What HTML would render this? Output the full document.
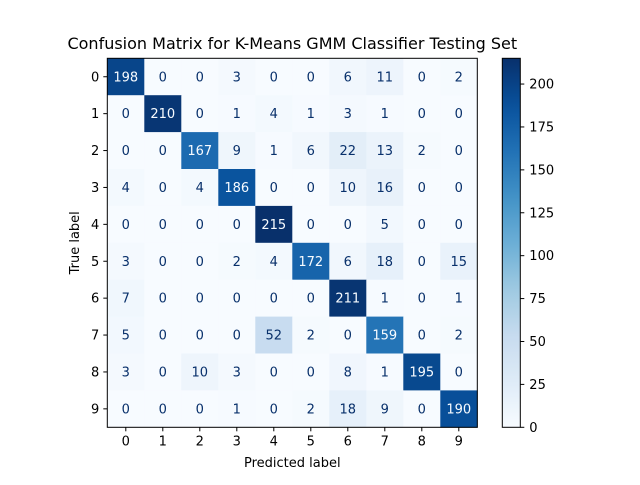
<!DOCTYPE html>
<html><head><meta charset="utf-8"><style>
body{margin:0;background:#fff;font-family:"Liberation Sans","DejaVu Sans",sans-serif}
svg text{font-family:"DejaVu Sans","Liberation Sans",sans-serif}
</style></head><body>
<svg id="c" width="640" height="480" xmlns="http://www.w3.org/2000/svg"></svg>
<script>
const classLabels=["0","1","2","3","4","5","6","7","8","9"];
const matrixValues=[
[198,0,0,3,0,0,6,11,0,2],
[0,210,0,1,4,1,3,1,0,0],
[0,0,167,9,1,6,22,13,2,0],
[4,0,4,186,0,0,10,16,0,0],
[0,0,0,0,215,0,0,5,0,0],
[3,0,0,2,4,172,6,18,0,15],
[7,0,0,0,0,0,211,1,0,1],
[5,0,0,0,52,2,0,159,0,2],
[3,0,10,3,0,0,8,1,195,0],
[0,0,0,1,0,2,18,9,0,190]];
const colorbarTicks=[0,25,50,75,100,125,150,175,200];
const titleText="Confusion Matrix for K-Means GMM Classifier Testing Set";

const NS="http://www.w3.org/2000/svg";
const svg=document.getElementById('c');
const L=107.3,T=58.3,W=370,H=369;
const n=classLabels.length;
const cw=W/n,ch=H/n;
let vmin=Infinity,vmax=-Infinity;
matrixValues.forEach(r=>r.forEach(v=>{vmin=Math.min(vmin,v);vmax=Math.max(vmax,v);}));
const stops=["#f7fbff","#deebf7","#c6dbef","#9ecae1","#6baed6","#4292c6","#2171b5","#08519c","#08306b"].map(h=>[1,3,5].map(i=>parseInt(h.substr(i,2),16)));
function cmap(t){t=Math.max(0,Math.min(1,t));const p=t*(stops.length-1);const i=Math.min(stops.length-2,Math.floor(p));const f=p-i;
const c=stops[i].map((a,k)=>Math.round(a+(stops[i+1][k]-a)*f));return `rgb(${c[0]},${c[1]},${c[2]})`;}
function xS(j){return L+j*cw;}
function yS(i){return T+i*ch;}
function mk(tag,attrs,txt){const e=document.createElementNS(NS,tag);for(const k in attrs)e.setAttribute(k,attrs[k]);if(txt!==undefined)e.textContent=txt;svg.appendChild(e);return e;}
const thr=(vmax+vmin)/2;
for(let i=0;i<n;i++)for(let j=0;j<n;j++){
 const v=matrixValues[i][j];
 const r=mk('rect',{x:xS(j),y:yS(i),width:cw+0.4,height:ch+0.4,fill:cmap((v-vmin)/(vmax-vmin))});
 
 
 const t=mk('text',{x:xS(j)+cw/2,y:yS(i)+ch/2+4.5,'text-anchor':'middle','font-size':'13',fill:v>thr?'#f7fbff':'#08306b'},String(v));
 
 
}
const fr=mk('rect',{x:L,y:T,width:W,height:H,fill:'none',stroke:'#000','stroke-width':1});


classLabels.forEach((lab,k)=>{
 const cx=xS(k)+cw/2,cy=yS(k)+ch/2;
 mk('line',{x1:cx,x2:cx,y1:T+H,y2:T+H+4,stroke:'#000'});
 const tx=mk('text',{x:cx,y:T+H+18,'text-anchor':'middle','font-size':'13'},lab);
 
 
 mk('line',{x1:L-4,x2:L,y1:cy,y2:cy,stroke:'#000'});
 const ty=mk('text',{x:L-8,y:cy+4.5,'text-anchor':'end','font-size':'13'},lab);
 
 
});
const xt=mk('text',{x:L+W/2,y:467,'text-anchor':'middle','font-size':'13'},'Predicted label');


const yt=mk('text',{x:79,y:T+H/2,'text-anchor':'middle','font-size':'13',transform:`rotate(-90 79 ${T+H/2})`},'True label');


const tt=mk('text',{x:L+W/2,y:49,'text-anchor':'middle','font-size':'16'},titleText);


// colorbar
const CL=502.3,CW=18,CT=58.3,CH=369;
const g=document.createElementNS(NS,'defs');
const lg=document.createElementNS(NS,'linearGradient');
lg.setAttribute('id','cb');lg.setAttribute('x1','0');lg.setAttribute('y1','1');lg.setAttribute('x2','0');lg.setAttribute('y2','0');
for(let s=0;s<=20;s++){const st=document.createElementNS(NS,'stop');st.setAttribute('offset',s/20);st.setAttribute('stop-color',cmap(s/20));lg.appendChild(st);}
g.appendChild(lg);svg.appendChild(g);
const cb=mk('rect',{x:CL,y:CT,width:CW,height:CH,fill:'url(#cb)',stroke:'#000','stroke-width':1});


function cbY(v){return CT+CH-(v-vmin)/(vmax-vmin)*CH;}
colorbarTicks.forEach(v=>{
 const y=cbY(v);
 mk('line',{x1:CL+CW,x2:CL+CW+4,y1:y,y2:y,stroke:'#000'});
 const t=mk('text',{x:CL+CW+9,y:y+4.5,'font-size':'13'},String(v));
 
 
});
</script>
</body></html>
